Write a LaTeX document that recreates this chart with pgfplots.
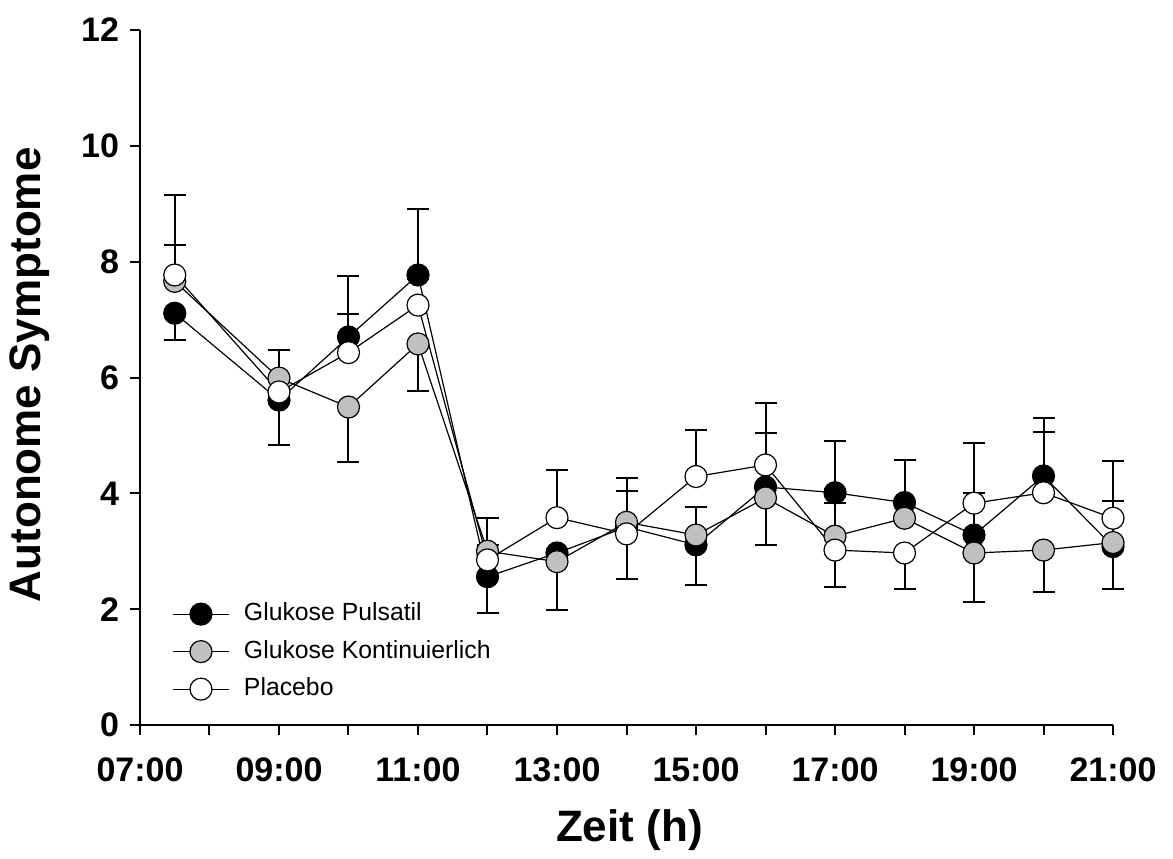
\documentclass[border=0pt]{standalone}
\usepackage{pgfplots}
\pgfplotsset{compat=1.18}
\usepackage{fontspec}
\setmainfont{Liberation Sans}
\definecolor{kgray}{RGB}{192,192,192}

% series values
\pgfplotstableread{
x y
7.5 7.11
9 5.61
10 6.70
11 7.77
12 2.56
13 2.97
14 3.42
15 3.11
16 4.11
17 4.01
18 3.84
19 3.28
20 4.30
21 3.08
}\pulsatil
\pgfplotstableread{
x y
7.5 7.66
9 5.99
10 5.49
11 6.58
12 3.00
13 2.82
14 3.50
15 3.28
16 3.92
17 3.26
18 3.57
19 2.97
20 3.02
21 3.15
}\kontin
\pgfplotstableread{
x y
7.5 7.77
9 5.75
10 6.43
11 7.25
12 2.85
13 3.58
14 3.30
15 4.29
16 4.49
17 3.02
18 2.97
19 3.83
20 4.01
21 3.57
}\placebo

% error bars (one-sided)
\pgfplotstableread{
x y e
10 6.70 1.05
11 7.77 1.14
14 3.42 0.62
16 4.11 0.94
17 4.01 0.89
18 3.84 0.74
19 3.28 0.72
20 4.30 1.00
}\pulsplus
\pgfplotstableread{
x y e
7.5 7.11 0.47
9 5.61 0.77
12 2.56 0.63
15 3.11 0.69
21 3.08 0.73
}\pulsminus
\pgfplotstableread{
x y e
7.5 7.66 0.63
9 5.99 0.49
12 3.00 0.10
14 3.50 0.76
15 3.28 0.49
17 3.26 0.57
21 3.15 0.72
}\kontplus
\pgfplotstableread{
x y e
10 5.49 0.95
11 6.58 0.81
13 2.82 0.83
16 3.92 0.81
19 2.97 0.85
20 3.02 0.72
}\kontminus
\pgfplotstableread{
x y e
7.5 7.77 1.38
10 6.43 0.67
12 2.85 0.73
13 3.58 0.82
15 4.29 0.81
16 4.49 1.07
19 3.83 1.04
20 4.01 1.05
21 3.57 0.98
}\placplus
\pgfplotstableread{
x y e
14 3.30 0.78
17 3.02 0.64
18 2.97 0.62
}\placminus

\pgfplotsset{
  ebar/.style={forget plot, draw=none, mark=none,
    error bars/.cd, y explicit, y dir=#1,
    error bar style={draw=black, line width=1pt},
    error mark options={rotate=90, mark size=5.5pt, draw=black, line width=1pt}},
  series/.style={black, line width=0.6pt, mark=*, mark size=5.5pt,
    mark options={fill=#1, draw=black, line width=0.6pt}},
}

\begin{document}
\begin{tikzpicture}
\path[use as bounding box] (-70pt,-66.5pt) rectangle (516.5pt,362.5pt);
\begin{axis}[
  at={(0,0)}, anchor=south west,
  scale only axis, width=486.5pt, height=347.5pt,
  xmin=7, xmax=21, ymin=0, ymax=12,
  axis lines=left, axis line style={-, line width=1pt},
  xtick={7,9,...,21},
  xticklabels={07:00,09:00,11:00,13:00,15:00,17:00,19:00,21:00},
  minor xtick={8,10,...,20},
  ytick={0,2,...,12},
  tick align=outside,
  major tick style={black, line width=1pt}, minor tick style={black, line width=1pt},
  major tick length=5pt, minor tick length=5pt,
  /pgf/number format/assume math mode=true,
  tick label style={font=\fontsize{17}{17}\selectfont\bfseries},
  xticklabel style={yshift=-8pt},
  yticklabel style={xshift=-2pt},
  xlabel={Zeit (h)}, ylabel={Autonome Symptome},
  label style={font=\fontsize{22}{22}\selectfont\bfseries},
  xlabel style={at={(axis description cs:0.503,-0.151)}, anchor=center},
  ylabel style={at={(axis description cs:-0.113,0.504)}, anchor=center},
  clip=false,
  legend cell align=left,
  legend style={at={(axis cs:7.46,2.12)}, anchor=north west, draw=none, fill=none,
    inner sep=0pt, row sep=7.25pt, column sep=0pt,
    font=\fontsize{12.4}{12.4}\selectfont,
    nodes={inner sep=0pt, text height=9pt, text depth=2.5pt}},
  legend image code/.code={
    \draw[#1, mark repeat=2, mark phase=2] plot coordinates {(0pt,0pt) (14pt,0pt) (28pt,0pt)};
    \path[draw=none, fill=none] (28pt,0pt) -- (35.5pt,0pt);
  },
]
\addplot[ebar=plus] table[x=x, y=y, y error=e] {\pulsplus};
\addplot[ebar=minus] table[x=x, y=y, y error=e] {\pulsminus};
\addplot[ebar=plus] table[x=x, y=y, y error=e] {\kontplus};
\addplot[ebar=minus] table[x=x, y=y, y error=e] {\kontminus};
\addplot[ebar=plus] table[x=x, y=y, y error=e] {\placplus};
\addplot[ebar=minus] table[x=x, y=y, y error=e] {\placminus};

\addplot[series=black] table[x=x, y=y] {\pulsatil};
\addlegendentry{Glukose Pulsatil}
\addplot[series=kgray] table[x=x, y=y] {\kontin};
\addlegendentry{Glukose Kontinuierlich}
\addplot[series=white] table[x=x, y=y] {\placebo};
\addlegendentry{Placebo}
\end{axis}
\end{tikzpicture}
\end{document}
